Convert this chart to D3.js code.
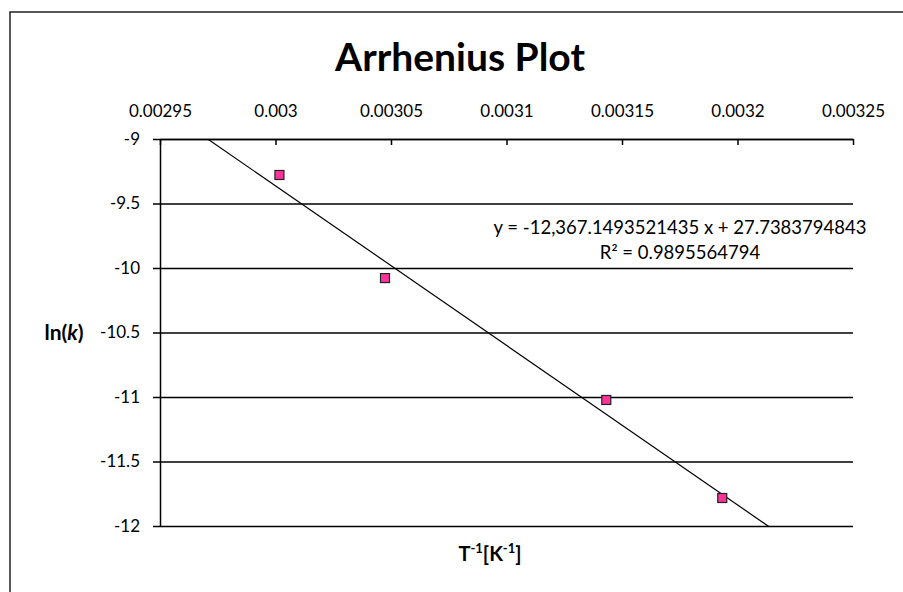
<!DOCTYPE html>
<html>
<head>
<meta charset="utf-8">
<script src="https://cdn.jsdelivr.net/npm/d3@7"></script>
<style>
  body { margin: 0; background: white; }
  text { font-family: Lato, "Open Sans", sans-serif; fill: #000; }
</style>
</head>
<body>
<div id="vis"></div>
<script>
// data: 1/T in K^-1 and ln(k)
var invT = [0.0030017, 0.0030474, 0.0031432, 0.0031934];
var lnK = [-9.279, -10.078, -11.023, -11.783];

// trendline coefficients as printed on the chart
var slope = [-12367.1493521435];
var intercept = [27.7383794843];
var eqLabels = ['y = -12,367.1493521435 x + 27.7383794843', 'R\u00b2 = 0.9895564794'];

// ticks
var xTicks = [0.00295, 0.003, 0.00305, 0.0031, 0.00315, 0.0032, 0.00325];
var xTickLabels = ['0.00295', '0.003', '0.00305', '0.0031', '0.00315', '0.0032', '0.00325'];
var yTicks = [-9, -9.5, -10, -10.5, -11, -11.5, -12];
var yTickLabels = ['-9', '-9.5', '-10', '-10.5', '-11', '-11.5', '-12'];

// svg properties
var svgWidth = 903;
var svgHeight = 592;

var svg = d3.select('#vis').append('svg')
  .attr('width', svgWidth)
  .attr('height', svgHeight);

// chart outline (runs off the right and bottom edges)
svg.append('rect')
  .attr('x', 10)
  .attr('y', 12)
  .attr('width', 1000)
  .attr('height', 1000)
  .attr('fill', 'white')
  .attr('stroke', '#222')
  .attr('stroke-width', 1.5);

// plot area
var plot = {left: 160, right: 853, top: 139, bottom: 526};
var plotWidth = plot.right - plot.left;
var plotHeight = plot.bottom - plot.top;

var graph = svg.append('g')
  .attr('transform', 'translate(' + plot.left + ',' + plot.top + ')');

// scales
var xScale = d3.scaleLinear().domain([0.00295, 0.00325]).range([0, plotWidth]);
var yScale = d3.scaleLinear().domain([-12, -9]).range([plotHeight, 0]);

// title
svg.append('text')
  .attr('x', 460)
  .attr('y', 71)
  .attr('text-anchor', 'middle')
  .style('font-size', '39px')
  .style('font-weight', 'bold')
  .text('Arrhenius Plot');

// y axis with gridlines
var yAxis = graph.append('g')
  .attr('class', 'axis yAxis')
  .call(d3.axisLeft(yScale)
    .tickValues(yTicks)
    .tickSizeInner(7)
    .tickSizeOuter(0)
    .tickPadding(13)
    .tickFormat(function (d, i) { return yTickLabels[i]; }));

yAxis.selectAll('.tick line')
  .attr('x1', -7)
  .attr('x2', plotWidth)
  .attr('stroke', '#000')
  .attr('stroke-width', 1.5);
yAxis.select('.domain').attr('stroke', '#000').attr('stroke-width', 1.5);
yAxis.selectAll('text').style('font-size', '17px').style('font-family', 'Lato, sans-serif');

// x axis along the top, ticks pointing down
var xAxis = graph.append('g')
  .attr('class', 'axis xAxis')
  .call(d3.axisTop(xScale)
    .tickValues(xTicks)
    .tickSizeInner(-6)
    .tickSizeOuter(0)
    .tickPadding(22)
    .tickFormat(function (d, i) { return xTickLabels[i]; }));

xAxis.selectAll('.tick line').attr('stroke', '#000').attr('stroke-width', 1.5);
xAxis.select('.domain').attr('stroke', '#000').attr('stroke-width', 1.5);
xAxis.selectAll('text').style('font-size', '17px').style('font-family', 'Lato, sans-serif');

// trendline, clipped to plot area
graph.append('clipPath')
  .attr('id', 'plotClip')
  .append('rect')
  .attr('width', plotWidth)
  .attr('height', plotHeight);

var lineX = xScale.domain();
var trend = lineX.map(function (x) { return {x: x, y: slope[0] * x + intercept[0]}; });

var makeLine = d3.line()
  .x(function (d) { return xScale(d.x); })
  .y(function (d) { return yScale(d.y); });

graph.append('path')
  .datum(trend)
  .attr('d', makeLine)
  .attr('clip-path', 'url(#plotClip)')
  .attr('fill', 'none')
  .attr('stroke', '#000')
  .attr('stroke-width', 1.2);

// points
var data = invT.map(function (v, i) { return {x: v, y: lnK[i]}; });
var s = 9;
graph.selectAll('.pt')
  .data(data)
  .enter().append('rect')
  .attr('class', 'pt')
  .attr('x', function (d) { return xScale(d.x) - s / 2; })
  .attr('y', function (d) { return yScale(d.y) - s / 2; })
  .attr('width', s)
  .attr('height', s)
  .attr('fill', '#ff3399')
  .attr('stroke', '#222')
  .attr('stroke-width', 1.2);

// trendline equation
svg.selectAll('.eq')
  .data(eqLabels)
  .enter().append('text')
  .attr('class', 'eq')
  .attr('x', 680)
  .attr('y', function (d, i) { return 234 + i * 25; })
  .attr('text-anchor', 'middle')
  .style('font-size', '18.5px')
  .text(function (d) { return d; });

// axis titles
var yTitle = svg.append('text')
  .attr('x', 64)
  .attr('y', 340)
  .attr('text-anchor', 'middle')
  .style('font-size', '21px')
  .style('font-weight', 'bold');
yTitle.append('tspan').text('ln(');
yTitle.append('tspan').style('font-style', 'italic').text('k');
yTitle.append('tspan').text(')');

var xTitle = svg.append('text')
  .attr('x', 490)
  .attr('y', 561)
  .attr('text-anchor', 'middle')
  .style('font-size', '20px')
  .style('font-weight', 'bold');
xTitle.append('tspan').text('T');
xTitle.append('tspan').attr('dy', -8).style('font-size', '13px').text('-1');
xTitle.append('tspan').attr('dy', 8).text('[K');
xTitle.append('tspan').attr('dy', -8).style('font-size', '13px').text('-1');
xTitle.append('tspan').attr('dy', 8).text(']');
</script>
</body>
</html>
